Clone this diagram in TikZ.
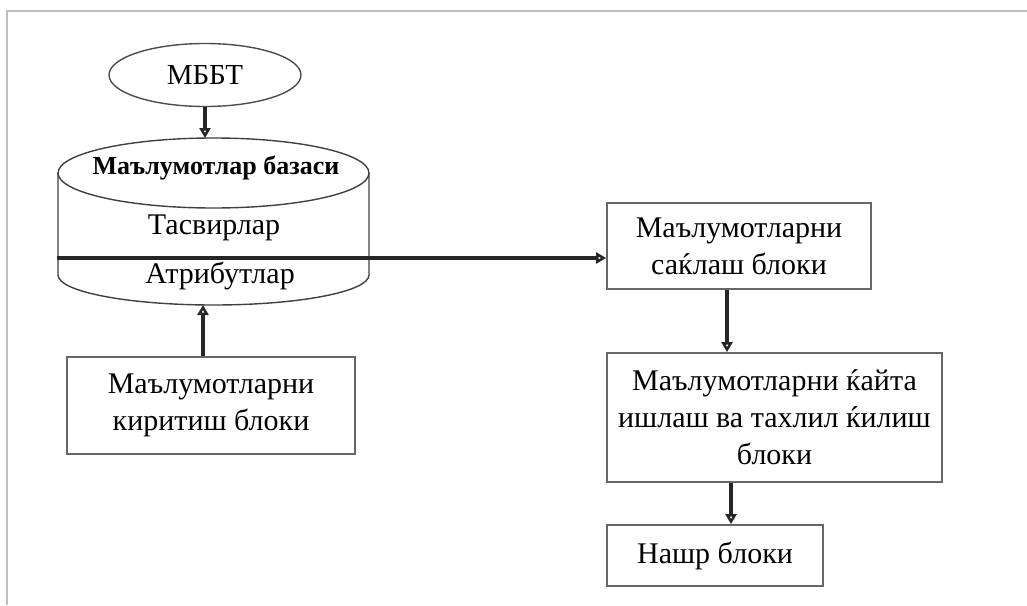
\documentclass[tikz,border=0pt]{standalone}
\usepackage{fontspec}
\setmainfont{Liberation Serif}
\usetikzlibrary{arrows.meta,shapes.geometric}

\tikzstyle{blok}=[rectangle, draw=black!60, line width=0.9pt, align=center, inner sep=0pt, font=\fontsize{15}{18.5}\selectfont]
\tikzstyle{tbox}=[ellipse, draw=black!70, line width=0.7pt, inner sep=0pt, minimum width=96pt, minimum height=31.5pt, font=\fontsize{14.5}{17}\selectfont]
\tikzstyle{yozuv}=[inner sep=0pt, font=\fontsize{15}{18}\selectfont]
\tikzstyle{oq}=[draw=black!85, line width=1.7pt, -{Triangle[open,length=5pt,width=5.5pt]}]

\begin{document}
\begin{tikzpicture}[x=0.5pt,y=-0.5pt]
\useasboundingbox (0,0) rectangle (1027,605);
\draw[black!25, line width=0.6pt] (7,605) -- (7,11) -- (1027,11);

% baza
\draw[black!75, line width=0.7pt] (369,173) -- (369,275)
  arc[start angle=0, end angle=-180, x radius=77.75pt, y radius=15pt] -- (58,173);
\draw[black!75, line width=0.7pt] (213.5,173) ellipse [x radius=77.75pt, y radius=17.5pt];
\node[yozuv, font=\fontsize{13}{15}\selectfont\bfseries] (dbname) at (216,168) {Маълумотлар базаси};
\node[yozuv] (tasvir) at (214,228) {Тасвирлар};
\node[yozuv] (atrib) at (220,276) {Атрибутлар};
\coordinate (dbtop) at (205,138);
\coordinate (dbbot) at (203,305);
\coordinate (chap) at (57,258);

\node[tbox] (mbbt) at (205,75) {МББТ};
\node[blok, minimum width=144pt, minimum height=48.5pt] (kirit) at (211,405.5) {Маълумотларни\\киритиш блоки};

\node[blok, minimum width=132pt, minimum height=43pt] (saqlash) at (739,246) {Маълумотларни\\саќлаш блоки};
\node[blok, minimum width=167.5pt, minimum height=64.5pt] (tahlil) at (774.5,417.5) {Маълумотларни ќайта\\ишлаш ва тахлил ќилиш\\блоки};
\node[blok, minimum width=108pt, minimum height=30.5pt] (nashr) at (715,555.5) {Нашр блоки};

\draw[oq] (mbbt) -- (dbtop);
\draw[oq] (kirit.north -| dbbot) -- (dbbot);
\draw[oq] (chap) -- (chap -| saqlash.west);
\draw[oq] ([xshift=-6pt]saqlash.south) -- ([xshift=-6pt]saqlash.south |- tahlil.north);
\draw[oq] ([xshift=8pt]nashr.north |- tahlil.south) -- ([xshift=8pt]nashr.north);
\end{tikzpicture}
\end{document}
